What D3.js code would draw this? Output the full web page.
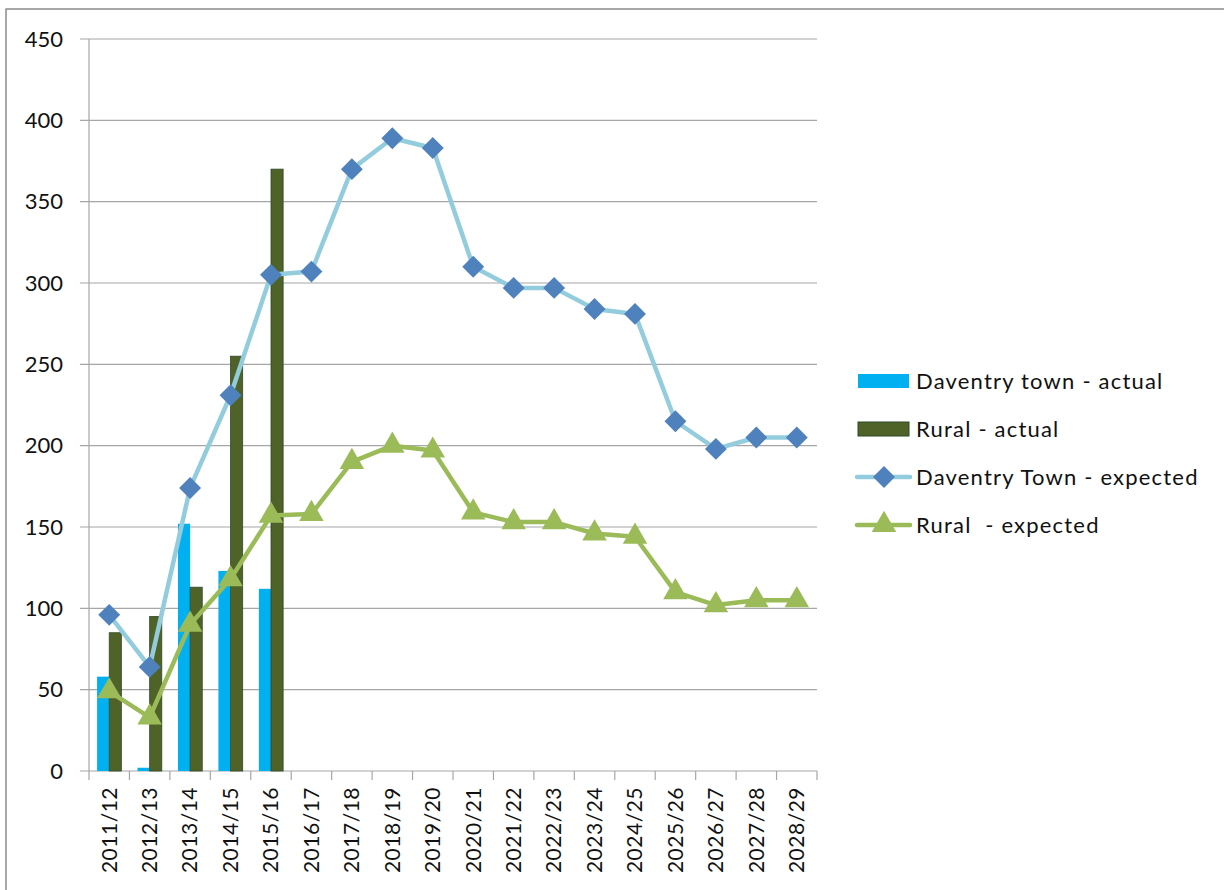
<!DOCTYPE html>
<html lang="en">
<head>
<meta charset="UTF-8" />
<title>Daventry chart</title>
<style>
  body { margin: 0; background: #fff; }
  text { font-family: Lato, "Open Sans", sans-serif; fill: #111; }
</style>
</head>
<body>
<svg class="chart" width="1224" height="890"></svg>
<script src="https://d3js.org/d3.v7.min.js"></script>
<script>
const years = ['2011/12','2012/13','2013/14','2014/15','2015/16','2016/17','2017/18','2018/19','2019/20',
  '2020/21','2021/22','2022/23','2023/24','2024/25','2025/26','2026/27','2027/28','2028/29'];

// actual completions (only first five years)
const townActual = [58, 2, 152, 123, 112];
const ruralActual = [85, 95, 113, 255, 370];

// expected
const townExpected = [96, 64, 174, 231, 305, 307, 370, 389, 383, 310, 297, 297, 284, 281, 215, 198, 205, 205];
const ruralExpected = [49, 33, 90, 118, 157, 158, 190, 200, 197, 159, 153, 153, 146, 144, 110, 102, 105, 105];

const yTicks = [0, 50, 100, 150, 200, 250, 300, 350, 400, 450];

const svg = d3.select('.chart');

// outer frame
svg.append('rect')
  .attr('x', 6).attr('y', 9).attr('width', 1240).attr('height', 900)
  .attr('fill', 'none').attr('stroke', '#8c8c8c').attr('stroke-width', 1.5);

const plotL = 89, plotR = 817, plotT = 39, plotB = 771;

const x = d3.scaleBand().domain(years).range([plotL, plotR]);
const y = d3.scaleLinear().domain([0, 450]).range([plotB, plotT]);

// gridlines
svg.append('g')
  .selectAll('line')
  .data(yTicks)
  .join('line')
  .attr('x1', plotL - 9).attr('x2', plotR)
  .attr('y1', d => y(d)).attr('y2', d => y(d))
  .attr('stroke', '#a6a6a6').attr('stroke-width', 1.2);

// y axis line
svg.append('line')
  .attr('x1', plotL).attr('x2', plotL).attr('y1', plotT).attr('y2', plotB)
  .attr('stroke', '#a6a6a6').attr('stroke-width', 1.2);

// y labels
svg.append('g')
  .selectAll('text')
  .data(yTicks)
  .join('text')
  .attr('x', 63).attr('y', d => y(d))
  .attr('dy', '0.35em')
  .attr('text-anchor', 'end')
  .attr('font-size', 22)
  .text(d => d);

// x tick marks
const xEdges = years.map(d => x(d)).concat([plotR]);
svg.append('g')
  .selectAll('line')
  .data(xEdges)
  .join('line')
  .attr('x1', d => d).attr('x2', d => d)
  .attr('y1', plotB).attr('y2', plotB + 9)
  .attr('stroke', '#a6a6a6').attr('stroke-width', 1.2);

// x labels
svg.append('g')
  .selectAll('text')
  .data(years)
  .join('text')
  .attr('transform', d => `translate(${x(d) + x.bandwidth() / 2},787) rotate(-90)`)
  .attr('dy', '0.35em')
  .attr('text-anchor', 'end')
  .attr('font-size', 21)
  .attr('letter-spacing', 0.5)
  .text(d => d);

// bars
const bw = x.bandwidth() * 0.3;
svg.append('g')
  .selectAll('rect')
  .data(townActual)
  .join('rect')
  .attr('x', (d, i) => x(years[i]) + x.bandwidth() * 0.2)
  .attr('y', d => y(d))
  .attr('width', bw)
  .attr('height', d => plotB - y(d))
  .attr('fill', '#00b0f0');

svg.append('g')
  .selectAll('rect')
  .data(ruralActual)
  .join('rect')
  .attr('x', (d, i) => x(years[i]) + x.bandwidth() * 0.5)
  .attr('y', d => y(d))
  .attr('width', bw)
  .attr('height', d => plotB - y(d))
  .attr('fill', '#4f6228')
  .attr('stroke', '#2e4a2a').attr('stroke-width', 0.8);

const cx = i => x(years[i]) + x.bandwidth() / 2;
const line = d3.line().x((d, i) => cx(i)).y(d => y(d));

const diamond = d3.symbol().type(d3.symbolSquare).size(240);
const tri = d3.symbol().type(d3.symbolTriangle).size(260);

// town expected
svg.append('path')
  .datum(townExpected)
  .attr('d', line)
  .attr('fill', 'none').attr('stroke', '#93cddd').attr('stroke-width', 4.5)
  .attr('stroke-linejoin', 'round');

svg.append('g')
  .selectAll('path')
  .data(townExpected)
  .join('path')
  .attr('d', diamond)
  .attr('transform', (d, i) => `translate(${cx(i)},${y(d)}) rotate(45)`)
  .attr('fill', '#4f81bd');

// rural expected
svg.append('path')
  .datum(ruralExpected)
  .attr('d', line)
  .attr('fill', 'none').attr('stroke', '#9bbb59').attr('stroke-width', 4.5)
  .attr('stroke-linejoin', 'round');

svg.append('g')
  .selectAll('path')
  .data(ruralExpected)
  .join('path')
  .attr('d', tri)
  .attr('transform', (d, i) => `translate(${cx(i)},${y(d)})`)
  .attr('fill', '#9bbb59');

// legend
const legendItems = [
  {label: 'Daventry town - actual', kind: 'bar', color: '#00b0f0'},
  {label: 'Rural - actual', kind: 'bar', color: '#4f6228'},
  {label: 'Daventry Town - expected', kind: 'diamond', color: '#93cddd', mark: '#4f81bd'},
  {label: 'Rural  - expected', kind: 'triangle', color: '#9bbb59', mark: '#9bbb59'}
];

const lg = svg.append('g')
  .selectAll('g')
  .data(legendItems)
  .join('g')
  .attr('transform', (d, i) => `translate(0,${381 + i * 48})`);

lg.filter(d => d.kind === 'bar')
  .append('rect')
  .attr('x', 858).attr('y', -7).attr('width', 51).attr('height', 14)
  .attr('fill', d => d.color)
  .attr('stroke', d => d.color === '#4f6228' ? '#2e4a2a' : 'none');

lg.filter(d => d.kind !== 'bar')
  .append('line')
  .attr('x1', 857).attr('x2', 910).attr('y1', 0).attr('y2', 0)
  .attr('stroke', d => d.color).attr('stroke-width', 4.5).attr('stroke-linecap', 'round');

lg.filter(d => d.kind === 'diamond')
  .append('path')
  .attr('d', diamond)
  .attr('transform', 'translate(884,0) rotate(45)')
  .attr('fill', d => d.mark);

lg.filter(d => d.kind === 'triangle')
  .append('path')
  .attr('d', tri)
  .attr('transform', 'translate(884,0)')
  .attr('fill', d => d.mark);

lg.append('text')
  .attr('x', 916).attr('y', 0).attr('dy', '0.35em')
  .attr('font-size', 22)
  .attr('letter-spacing', 1.2)
  .attr('xml:space', 'preserve')
  .style('white-space', 'pre')
  .text(d => d.label);
</script>
</body>
</html>
